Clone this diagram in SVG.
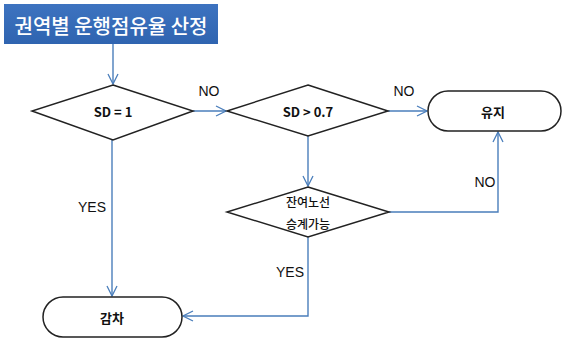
<svg xmlns="http://www.w3.org/2000/svg" width="564" height="342" viewBox="0 0 564 342">
<defs>
<linearGradient id="tg" x1="0" y1="0" x2="0" y2="1">
<stop offset="0" stop-color="#3d73c0"/>
<stop offset="1" stop-color="#2f64b0"/>
</linearGradient>
<marker id="ah" viewBox="0 0 12 12" refX="11" refY="6" markerWidth="12" markerHeight="12" markerUnits="userSpaceOnUse" orient="auto">
<path d="M1,1 L11,6 L1,11" fill="none" stroke="#4a7ebb" stroke-width="1.3"/>
</marker>
</defs>
<style>
.shape{fill:#fff;stroke:#222;stroke-width:1.5}
.conn{fill:none;stroke:#4a7ebb;stroke-width:1.4;marker-end:url(#ah)}
.t{font-family:"Noto Sans CJK KR","Liberation Sans",sans-serif;font-size:13px;fill:#111;text-anchor:middle;dominant-baseline:central}
.b{font-weight:bold}
.lbl{font-family:"Liberation Sans Narrow","Liberation Sans",sans-serif;font-size:14px;fill:#111;text-anchor:middle;dominant-baseline:central}
</style>
<rect width="564" height="342" fill="#fff"/>
<g id="connectors">
<path class="conn" d="M113,44 L113,84"/>
<path class="conn" d="M193,111 L226,111"/>
<path class="conn" d="M388,111 L427,111"/>
<path class="conn" d="M308,136 L308,186"/>
<path class="conn" d="M389,212 L498,212 L498,132"/>
<path class="conn" d="M112,140 L112,296"/>
<path class="conn" d="M308,237 L308,316 L183,316"/>
<text class="lbl" x="209" y="91">NO</text>
<text class="lbl" x="404" y="91">NO</text>
<text class="lbl" x="485" y="182">NO</text>
<text class="lbl" x="92" y="207">YES</text>
<text class="lbl" x="290" y="272">YES</text>
</g>
<g id="title">
<rect x="4" y="4" width="214" height="40" fill="url(#tg)"/>
<text x="111" y="25" style="font-family:'Noto Sans CJK KR',sans-serif;font-size:20px;font-weight:500;fill:#fff;text-anchor:middle;dominant-baseline:central">권역별 운행점유율 산정</text>
</g>
<g id="d1">
<polygon class="shape" points="113,85 193,111 113,140 32,111"/>
<text class="t b" x="113" y="111">SD = 1</text>
</g>
<g id="d2">
<polygon class="shape" points="308,85 388,111 308,136 227,111"/>
<text class="t b" x="308" y="111">SD &gt; 0.7</text>
</g>
<g id="keep">
<rect class="shape" x="428" y="91" width="133" height="40" rx="20"/>
<text class="t b" x="493" y="111">유지</text>
</g>
<g id="d3">
<polygon class="shape" points="308,187 389,212 308,237 227,212"/>
<text class="t" x="308" y="201" style="font-size:12px;font-weight:500">잔여노선</text>
<text class="t" x="308" y="223" style="font-size:12px;font-weight:500">승계가능</text>
</g>
<g id="reduce">
<rect class="shape" x="43" y="297" width="139" height="40" rx="20"/>
<text class="t b" x="112" y="317">감차</text>
</g>
</svg>
